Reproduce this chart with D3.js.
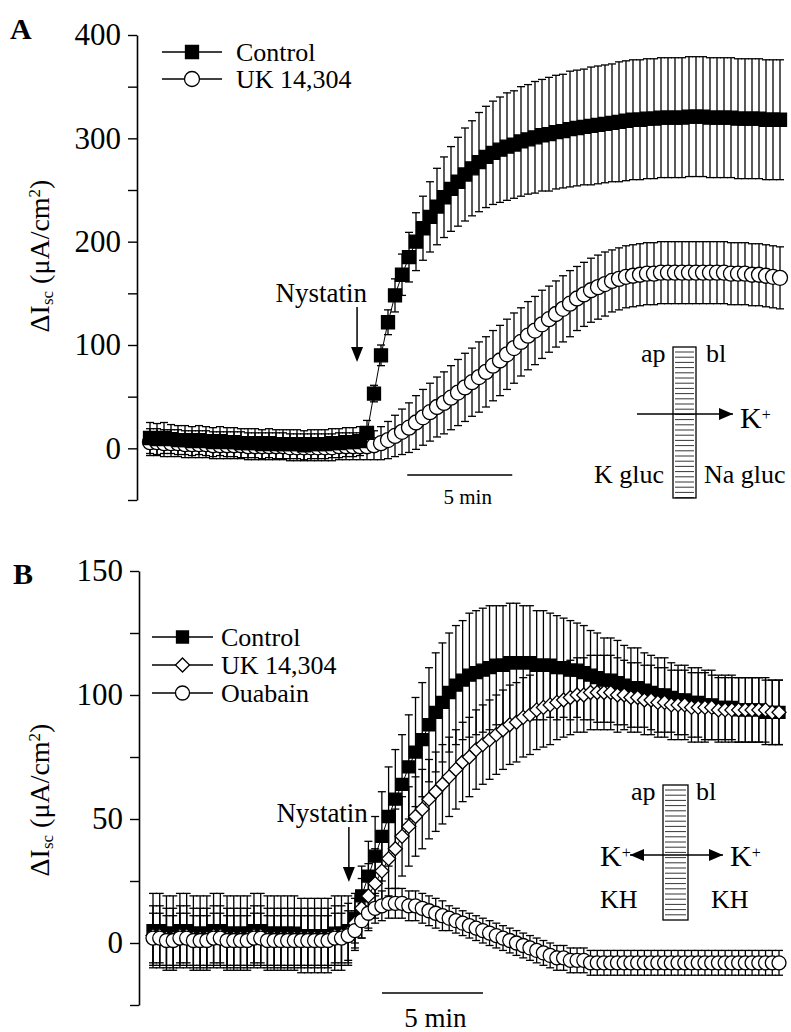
<!DOCTYPE html>
<html lang="en">
<head>
<meta charset="UTF-8">
<title>Nystatin Isc</title>
<script src="https://d3js.org/d3.v7.min.js"></script>
<style>
  body { margin: 0; background: #fff; }
  svg text { font-family: "Liberation Serif", "Times New Roman", Times, "DejaVu Serif", serif; fill: #000; }
</style>
</head>
<body>
<svg id="chart" width="791" height="1032"></svg>
<script>
// one point every 20 s (time in min)
const sampleMin = 1 / 3;
const serif = "'Liberation Serif', 'Times New Roman', Times, 'DejaVu Serif', serif";

// ---- panel A : K gluc / Na gluc ----
const ctrlA = [10, 9, 10, 9, 8, 8, 7, 8, 7, 6, 7, 6, 6, 5, 5, 5, 4, 5, 4, 4, 4, 4, 3, 4, 4, 4, 5, 5, 6, 6, 7, 15,
  53, 90, 122, 148, 168, 185, 200, 213, 224, 234, 243, 251, 258, 265, 271, 277, 282, 286, 289, 292,
  294, 297, 299, 301, 303, 304, 306, 307, 309, 310, 311, 312, 313, 314, 315, 316, 317, 318, 318, 319,
  319, 320, 320, 320, 320, 321, 321, 321, 320, 320, 320, 320, 319, 319, 319, 319, 318, 318, 318];
const ctrlASem = [15, 15, 15, 14, 14, 14, 14, 14, 14, 14, 14, 14, 14, 14, 14, 14, 14, 14, 14, 14, 14, 14, 14, 14, 14, 14, 14, 14, 14, 14, 14, 12,
  8, 10, 12, 16, 20, 24, 28, 31, 34, 37, 39, 41, 43, 45, 46, 48, 49, 50, 51, 52,
  52, 53, 53, 54, 54, 55, 55, 55, 56, 56, 56, 57, 57, 57, 57, 58, 58, 58, 58, 58,
  58, 58, 58, 58, 58, 58, 58, 58, 58, 58, 58, 58, 58, 58, 58, 58, 58, 58, 58];
const ukA = [6, 6, 5, 5, 5, 4, 4, 4, 4, 3, 3, 3, 3, 3, 2, 2, 2, 2, 2, 2, 1, 1, 1, 1, 1, 1, 1, 2, 2, 2, 2, 2,
  3, 5, 8, 12, 16, 20, 25, 30, 35, 40, 44, 49, 54, 59, 64, 69, 74, 80, 85, 91,
  97, 103, 109, 114, 120, 125, 130, 135, 140, 145, 149, 153, 156, 159, 162, 164, 166, 167, 168, 169,
  169, 170, 170, 170, 170, 170, 170, 170, 170, 170, 170, 169, 169, 169, 168, 168, 167, 166, 165];
const ukASem = [13, 13, 13, 13, 13, 13, 13, 13, 13, 13, 13, 13, 13, 13, 13, 13, 13, 13, 13, 13, 13, 13, 13, 13, 13, 13, 13, 13, 13, 13, 13, 13,
  14, 16, 18, 20, 22, 24, 26, 27, 28, 29, 30, 31, 32, 33, 33, 34, 34, 34, 34, 34,
  34, 33, 33, 33, 33, 32, 32, 32, 32, 31, 31, 31, 31, 31, 30, 30, 30, 30, 30, 30,
  30, 30, 30, 30, 30, 30, 30, 30, 30, 30, 30, 30, 30, 30, 30, 30, 30, 30, 30];
const ticksA = [-50, 0, 50, 100, 150, 200, 250, 300, 350, 400];
const labelsA = [0, 100, 200, 300, 400];

// ---- panel B : KH / KH ----
const ctrlB = [5, 5, 4, 4, 5, 5, 4, 4, 4, 5, 5, 4, 4, 4, 4, 5, 5, 4, 4, 4, 4, 4, 3, 3, 3, 3, 3, 4, 4,
  5, 10, 19, 27, 35, 43, 51, 58, 64, 71, 77, 82, 88, 93, 97, 101, 104, 106, 108, 109,
  110, 111, 112, 112, 113, 113, 113, 113, 112, 112, 112, 111, 111, 110, 110, 109, 108, 107, 106, 106,
  105, 104, 103, 103, 102, 101, 100, 100, 99, 98, 98, 97, 97, 96, 96, 95, 95, 95, 94, 94,
  94, 94, 93, 93, 93];
const ctrlBSem = [15, 15, 15, 15, 15, 15, 15, 15, 15, 15, 15, 15, 15, 15, 15, 15, 15, 15, 15, 15, 15, 15, 15, 15, 15, 15, 15, 15, 15,
  14, 10, 12, 14, 16, 18, 20, 20, 20, 21, 22, 23, 23, 24, 24, 24, 24, 24, 25, 25,
  25, 25, 24, 24, 24, 24, 23, 23, 22, 22, 21, 21, 20, 20, 19, 19, 18, 18, 17, 17,
  17, 16, 16, 16, 15, 15, 15, 15, 14, 14, 14, 14, 14, 14, 14, 13, 13, 13, 13, 13,
  13, 13, 13, 13, 13];
const ukB = [3, 3, 2, 2, 3, 3, 2, 2, 2, 3, 3, 2, 2, 2, 2, 3, 3, 2, 2, 2, 2, 2, 2, 2, 2, 2, 2, 3, 3, 4,
  8, 14, 19, 24, 29, 34, 38, 43, 47, 51, 54, 58, 61, 64, 67, 70, 73, 75, 78, 80,
  82, 84, 86, 88, 89, 91, 92, 94, 95, 96, 97, 98, 99, 100, 100, 101, 101, 101, 101, 100,
  100, 99, 99, 98, 98, 97, 97, 96, 96, 96, 95, 95, 95, 95, 94, 94, 94, 94, 94, 94,
  94, 94, 93, 93];
const ukBSem = [12, 12, 12, 12, 12, 12, 12, 12, 12, 12, 12, 12, 12, 12, 12, 12, 12, 12, 12, 12, 12, 12, 12, 12, 12, 12, 12, 12, 12, 12,
  10, 12, 13, 14, 15, 15, 16, 16, 16, 16, 16, 16, 16, 16, 16, 16, 16, 16, 16, 16,
  16, 16, 16, 16, 16, 16, 16, 16, 16, 16, 15, 15, 15, 15, 15, 15, 15, 15, 15, 15,
  14, 14, 14, 14, 14, 14, 14, 14, 14, 14, 14, 14, 14, 13, 13, 13, 13, 13, 13, 13,
  13, 13, 13, 13];
const ouaB = [2, 2, 1, 1, 2, 2, 1, 1, 1, 2, 2, 1, 1, 1, 1, 2, 2, 1, 1, 1, 1, 1, 1, 1, 1, 1, 1, 2, 2, 3,
  5, 9, 12, 14, 15, 16, 16, 16, 15, 15, 14, 13, 12, 11, 10, 9, 8, 7, 6, 5,
  4, 3, 2, 1, 0, -1, -2, -3, -4, -5, -6, -6, -7, -7, -7, -8, -8, -8, -8, -8,
  -8, -8, -8, -8, -8, -8, -8, -8, -8, -8, -8, -8, -8, -8, -8, -8, -8, -8, -8, -8,
  -8, -8, -8, -8];
const ouaBSem = [10, 10, 10, 10, 10, 10, 10, 10, 10, 10, 10, 10, 10, 10, 10, 10, 10, 10, 10, 10, 10, 10, 10, 10, 10, 10, 10, 10, 10, 10,
  8, 7, 7, 6, 6, 6, 6, 6, 6, 6, 6, 6, 6, 6, 5, 5, 5, 5, 5, 5,
  5, 5, 5, 5, 5, 5, 5, 5, 5, 5, 5, 5, 5, 5, 5, 5, 5, 5, 5, 5,
  5, 5, 5, 5, 5, 5, 5, 5, 5, 5, 5, 5, 5, 5, 5, 5, 5, 5, 5, 5,
  5, 5, 5, 5];
const ticksB = [-25, 0, 25, 50, 75, 100, 125, 150];
const labelsB = [0, 50, 100, 150];

const svg = d3.select("#chart");

function symbolPath(type, size) {
  if (type === "square") return d3.symbol(d3.symbolSquare, size * size)();
  if (type === "diamond") return d3.symbol(d3.symbolSquare, size * size * 0.5)();
  return d3.symbol(d3.symbolCircle, Math.PI * size * size / 4)();
}

function drawSymbol(sel, type, size, fill) {
  return sel.append("path")
    .attr("d", symbolPath(type, size))
    .attr("fill", fill)
    .attr("stroke", "#000")
    .attr("stroke-width", 1.3);
}

function drawPanel(p) {
  const x = d3.scaleLinear().domain(p.xDomain).range(p.xRange);
  const y = d3.scaleLinear().domain(p.yDomain).range(p.yRange);
  const g = svg.append("g");

  // y axis
  const ax = g.append("g")
    .attr("transform", `translate(${p.axisX},0)`)
    .call(d3.axisLeft(y).tickValues(p.ticks).tickSize(9).tickSizeOuter(0).tickPadding(7)
      .tickFormat(d => p.labels.includes(d) ? d : ""));
  ax.attr("font-family", null).attr("font-size", null);
  ax.select(".domain").attr("stroke-width", 1.6);
  ax.selectAll(".tick line").attr("stroke-width", 1.4);
  ax.selectAll(".tick text")
    .style("font-family", serif)
    .style("font-size", "31px");

  // y label
  const lab = g.append("text")
    .attr("transform", `translate(${p.labelX},${p.labelY}) rotate(-90)`)
    .attr("text-anchor", "middle")
    .style("font-size", "28px");
  lab.append("tspan").text("\u0394I");
  lab.append("tspan").attr("baseline-shift", "-25%").style("font-size", "17px").text("sc");
  lab.append("tspan").text(" (\u03bcA/cm");
  lab.append("tspan").attr("baseline-shift", "super").style("font-size", "17px").text("2");
  lab.append("tspan").text(")");

  // panel letter
  g.append("text").attr("x", p.letterX).attr("y", p.letterY)
    .style("font-size", "30px").style("font-weight", "bold").text(p.letter);

  const pts = p.series.map(s => s.values.map((v, i) => ({ t: i * sampleMin, v, e: s.sem[i] })));

  // error bars
  p.series.forEach((s, k) => {
    const eb = g.append("g").attr("stroke", "#000").attr("stroke-width", 1.3);
    pts[k].forEach(d => {
      const cx = x(d.t), hi = y(d.v + d.e), lo = y(d.v - d.e);
      eb.append("line").attr("x1", cx).attr("x2", cx).attr("y1", hi).attr("y2", lo);
      eb.append("line").attr("x1", cx - 4).attr("x2", cx + 4).attr("y1", hi).attr("y2", hi);
      eb.append("line").attr("x1", cx - 4).attr("x2", cx + 4).attr("y1", lo).attr("y2", lo);
    });
  });

  // lines + symbols, in the stacking order of the original
  p.drawOrder.forEach(k => {
    const s = p.series[k];
    g.append("path").datum(pts[k])
      .attr("fill", "none").attr("stroke", "#000").attr("stroke-width", 1)
      .attr("d", d3.line().x(d => x(d.t)).y(d => y(d.v)));
    g.append("g").selectAll("path").data(pts[k]).join("path")
      .attr("d", symbolPath(s.type, s.size))
      .attr("transform", d => `translate(${x(d.t)},${y(d.v)})${s.type === "diamond" ? " rotate(45)" : ""}`)
      .attr("fill", s.fill).attr("stroke", "#000").attr("stroke-width", 1.3);
  });

  // legend
  p.series.forEach((s, k) => {
    const ly = p.legendY + k * p.legendGap;
    const lg = g.append("g");
    lg.append("line").attr("x1", p.legendX1).attr("x2", p.legendX2).attr("y1", ly).attr("y2", ly)
      .attr("stroke", "#000").attr("stroke-width", 1.5);
    drawSymbol(lg, s.type, s.size, s.fill)
      .attr("transform", `translate(${(p.legendX1 + p.legendX2) / 2},${ly})${s.type === "diamond" ? " rotate(45)" : ""}`);
    lg.append("text").attr("x", p.legendX2 + p.legendPad).attr("y", ly + 9)
      .style("font-size", "26px").text(s.name);
  });

  // nystatin marker
  g.append("text").attr("x", x(p.nysT) + p.nysDx).attr("y", p.nysTextY)
    .attr("text-anchor", "end").style("font-size", "27px").text("Nystatin");
  g.append("line").attr("x1", x(p.nysT)).attr("x2", x(p.nysT))
    .attr("y1", p.nysTextY + 5).attr("y2", p.nysTextY + 48)
    .attr("stroke", "#000").attr("stroke-width", 1.5);
  g.append("path")
    .attr("d", `M${x(p.nysT) - 6},${p.nysTextY + 45} L${x(p.nysT) + 6},${p.nysTextY + 45} L${x(p.nysT)},${p.nysTextY + 60} Z`)
    .attr("fill", "#000");

  // 5 min scale bar
  g.append("line").attr("x1", x(p.barT)).attr("x2", x(p.barT + 5))
    .attr("y1", p.barY).attr("y2", p.barY).attr("stroke", "#000").attr("stroke-width", 1.6);
  g.append("text").attr("x", x(p.barT + 2.5) + p.barTextDx).attr("y", p.barTextY)
    .attr("text-anchor", "middle").style("font-size", p.barFont).text("5 min");
}

drawPanel({
  letter: "A", letterX: 10, letterY: 39,
  xDomain: [0, 30], xRange: [150, 780],
  yDomain: [-50, 400], yRange: [500, 35],
  axisX: 137, ticks: ticksA, labels: labelsA,
  labelX: 49, labelY: 256,
  series: [
    { name: "Control", values: ctrlA, sem: ctrlASem, type: "square", size: 13, fill: "#000" },
    { name: "UK 14,304", values: ukA, sem: ukASem, type: "circle", size: 15, fill: "#fff" }
  ],
  drawOrder: [1, 0],
  legendX1: 162, legendX2: 222, legendY: 52, legendGap: 27, legendPad: 14,
  nysT: 9.86, nysDx: 10, nysTextY: 302,
  barT: 12.25, barY: 475, barTextY: 504, barTextDx: 8, barFont: "21px"
});

drawPanel({
  letter: "B", letterX: 13, letterY: 584,
  xDomain: [0, 31], xRange: [153, 779],
  yDomain: [-25, 150], yRange: [1005, 571],
  axisX: 139, ticks: ticksB, labels: labelsB,
  labelX: 49, labelY: 800,
  series: [
    { name: "Control", values: ctrlB, sem: ctrlBSem, type: "square", size: 12, fill: "#000" },
    { name: "UK 14,304", values: ukB, sem: ukBSem, type: "diamond", size: 14, fill: "#fff" },
    { name: "Ouabain", values: ouaB, sem: ouaBSem, type: "circle", size: 14, fill: "#fff" }
  ],
  drawOrder: [0, 1, 2],
  legendX1: 152, legendX2: 213, legendY: 637, legendGap: 28, legendPad: 8,
  nysT: 9.7, nysDx: 19, nysTextY: 822,
  barT: 11.34, barY: 993, barTextY: 1027, barTextDx: 3, barFont: "27px"
});

// ---- membrane insets ----
function inset(o) {
  const g = svg.append("g");
  g.append("rect").attr("x", o.x).attr("y", o.y).attr("width", o.w).attr("height", o.h)
    .attr("fill", "#fff").attr("stroke", "#000").attr("stroke-width", 1.3);
  g.selectAll("line.hatch").data(d3.range(o.y + 5, o.y + o.h, 5.2)).join("line")
    .attr("x1", o.x + 2).attr("x2", o.x + o.w - 2).attr("y1", d => d).attr("y2", d => d)
    .attr("stroke", "#000").attr("stroke-width", 0.8);
  o.texts.forEach(t => {
    const tx = g.append("text").attr("x", t.x).attr("y", t.y).style("font-size", t.size || "26px");
    tx.append("tspan").text(t.s);
    if (t.sup) tx.append("tspan").attr("baseline-shift", "super").style("font-size", "16px").text(t.sup);
  });
  o.arrows.forEach(a => {
    g.append("line").attr("x1", a.x1).attr("x2", a.x2).attr("y1", a.y).attr("y2", a.y)
      .attr("stroke", "#000").attr("stroke-width", 1.5);
    const dir = Math.sign(a.x2 - a.x1);
    g.append("path")
      .attr("d", `M${a.x2},${a.y} L${a.x2 - dir * 14},${a.y - 6} L${a.x2 - dir * 14},${a.y + 6} Z`)
      .attr("fill", "#000");
  });
}

inset({
  x: 673, y: 347, w: 23, h: 151,
  texts: [
    { s: "ap", x: 641, y: 362 },
    { s: "bl", x: 706, y: 362 },
    { s: "K", x: 740, y: 428, size: "30px", sup: "+" },
    { s: "K gluc", x: 594, y: 483 },
    { s: "Na gluc", x: 704, y: 483 }
  ],
  arrows: [{ x1: 637, x2: 733, y: 414 }]
});

inset({
  x: 663, y: 785, w: 25, h: 135,
  texts: [
    { s: "ap", x: 631, y: 800 },
    { s: "bl", x: 696, y: 800 },
    { s: "K", x: 600, y: 866, size: "30px", sup: "+" },
    { s: "K", x: 730, y: 866, size: "30px", sup: "+" },
    { s: "KH", x: 600, y: 908 },
    { s: "KH", x: 711, y: 908 }
  ],
  arrows: [{ x1: 675, x2: 630, y: 855 }, { x1: 675, x2: 723, y: 855 }]
});
</script>
</body>
</html>
